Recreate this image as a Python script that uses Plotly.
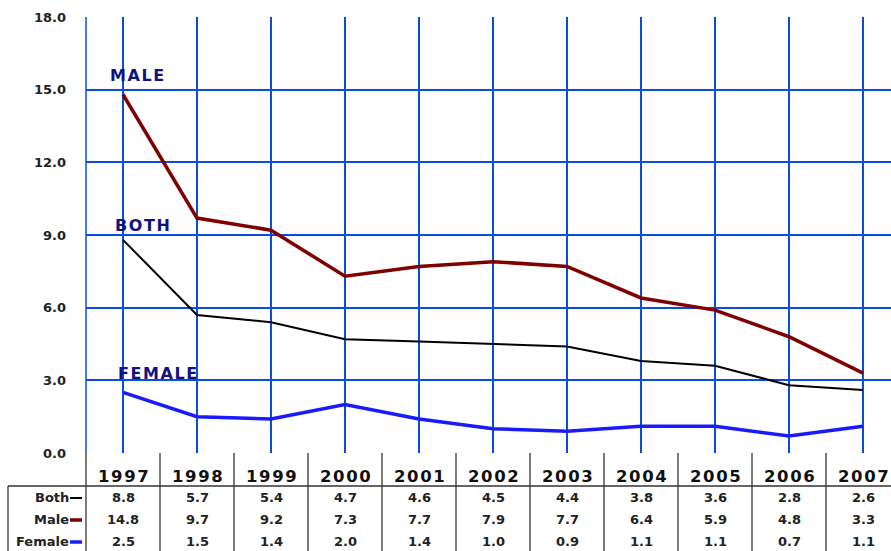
import plotly.graph_objects as go

years = [1997, 1998, 1999, 2000, 2001, 2002, 2003, 2004, 2005, 2006, 2007]
both = [8.8, 5.7, 5.4, 4.7, 4.6, 4.5, 4.4, 3.8, 3.6, 2.8, 2.6]
male = [14.8, 9.7, 9.2, 7.3, 7.7, 7.9, 7.7, 6.4, 5.9, 4.8, 3.3]
female = [2.5, 1.5, 1.4, 2.0, 1.4, 1.0, 0.9, 1.1, 1.1, 0.7, 1.1]
series_names = ["Both", "Male", "Female"]
y_ticks = [0, 3, 6, 9, 12, 15, 18]

W, H = 891, 551
ML, MT, MB = 86, 17, 98
PW, PH = W - ML, H - MT - MB
band = 74.0

grid = "#0a4ce0"
colors = {"Both": "#000000", "Male": "#800000", "Female": "#1a1aff"}
widths = {"Both": 2, "Male": 3.5, "Female": 3.5}
data = {"Both": both, "Male": male, "Female": female}

fig = go.Figure()
for n in series_names:
    fig.add_trace(go.Scatter(x=years, y=data[n], mode="lines", name=n,
                             line=dict(color=colors[n], width=widths[n]),
                             showlegend=False))

x0 = years[0] - 0.5
fig.update_xaxes(range=[x0, x0 + PW / band], tick0=years[0], dtick=1,
                 showgrid=True, gridcolor=grid, gridwidth=1.5,
                 showticklabels=False, zeroline=False, showline=False)
fig.update_yaxes(range=[0, 18], tickvals=y_ticks,
                 ticktext=[f"{v:.1f}" for v in y_ticks],
                 showgrid=True, gridcolor=grid, gridwidth=1.5,
                 zeroline=False, showline=False, ticklabelstandoff=19,
                 tickfont=dict(family="DejaVu Sans", size=13, color="#222222",
                               weight="bold"))

# left border of plot
fig.add_shape(type="line", xref="paper", yref="paper", x0=0, x1=0, y0=0, y1=1,
              line=dict(color=grid, width=1.5))

# series labels
labels = [("MALE", 15.6, -15), ("BOTH", 9.41, -10), ("FEMALE", 3.30, -7)]
for t, yv, xs in labels:
    fig.add_annotation(x=years[0], y=yv, xref="x", yref="y",
                       text="<b>" + "\u200a".join(t) + "</b>",
                       showarrow=False, xanchor="left", yanchor="middle", xshift=xs,
                       font=dict(family="DejaVu Sans", size=16, color="#12127f"))

def py(pix):
    # pixel y (from top of image) to paper coordinate
    return (H - MB - pix) / PH

tline = dict(color="#333333", width=1.3)
# table lines
fig.add_shape(type="line", xref="paper", yref="paper", x0=(8 - ML) / PW, x1=1,
              y0=py(486), y1=py(486), line=tline)
fig.add_shape(type="line", xref="paper", yref="paper", x0=(8 - ML) / PW, x1=(8 - ML) / PW,
              y0=py(486), y1=py(H), line=tline)
fig.add_shape(type="line", xref="paper", yref="paper", x0=0, x1=0,
              y0=py(453), y1=py(H), line=tline)
for yr in years[:-1]:
    fig.add_shape(type="line", xref="x", yref="paper", x0=yr + 0.5, x1=yr + 0.5,
                  y0=py(453), y1=py(H), line=tline)

# header years
for yr in years:
    fig.add_annotation(x=yr, y=py(476), xref="x", yref="paper",
                       text="<b>" + "\u200a".join(str(yr)) + "</b>",
                       showarrow=False, xanchor="center", yanchor="middle",
                       font=dict(family="DejaVu Sans", size=16.5, color="#111111"))

row_y = {"Both": 497, "Male": 519, "Female": 541}
for n in series_names:
    for yr, v in zip(years, data[n]):
        fig.add_annotation(x=yr, y=py(row_y[n]), xref="x", yref="paper",
                           text=f"<b>{v:.1f}</b>", showarrow=False,
                           xanchor="center", yanchor="middle",
                           font=dict(family="DejaVu Sans", size=13, color="#222222"))
    fig.add_annotation(x=(71 - ML) / PW, y=py(row_y[n]), xref="paper", yref="paper",
                       text=f"<b>{n}</b>", showarrow=False, xanchor="right",
                       yanchor="middle",
                       font=dict(family="DejaVu Sans", size=13, color="#222222"))
    fig.add_shape(type="line", xref="paper", yref="paper",
                  x0=(70 - ML) / PW, x1=(82 - ML) / PW,
                  y0=py(row_y[n] + 1), y1=py(row_y[n] + 1),
                  line=dict(color=colors[n], width=widths[n]))

fig.update_layout(width=W, height=H, margin=dict(l=ML, r=0, t=MT, b=MB),
                  plot_bgcolor="white", paper_bgcolor="white")
fig.write_html("out.html")
